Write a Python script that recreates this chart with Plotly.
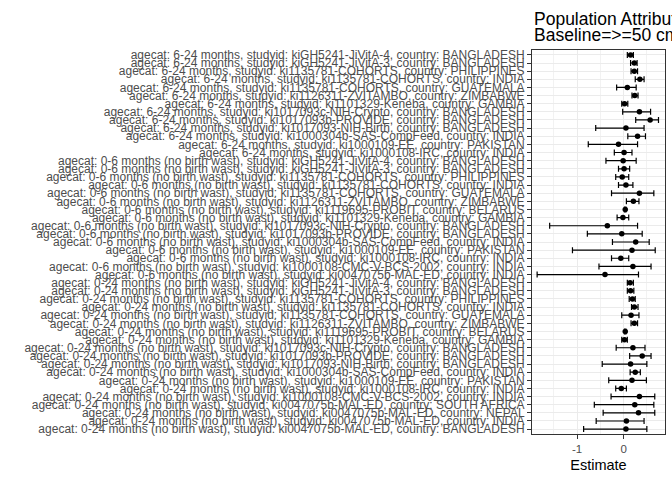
import plotly.graph_objects as go

agecats = (["6-24 months"] * 13
           + ["0-6 months (no birth wast)"] * 15
           + ["0-24 months (no birth wast)"] * 19)

studies = [
    # 6-24 months
    ("kiGH5241-JiVitA-4", "BANGLADESH"),
    ("kiGH5241-JiVitA-3", "BANGLADESH"),
    ("ki1135781-COHORTS", "PHILIPPINES"),
    ("ki1135781-COHORTS", "INDIA"),
    ("ki1135781-COHORTS", "GUATEMALA"),
    ("ki1126311-ZVITAMBO", "ZIMBABWE"),
    ("ki1101329-Keneba", "GAMBIA"),
    ("ki1017093c-NIH-Crypto", "BANGLADESH"),
    ("ki1017093b-PROVIDE", "BANGLADESH"),
    ("ki1017093-NIH-Birth", "BANGLADESH"),
    ("ki1000304b-SAS-CompFeed", "INDIA"),
    ("ki1000109-EE", "PAKISTAN"),
    ("ki1000108-IRC", "INDIA"),
    # 0-6 months (no birth wast)
    ("kiGH5241-JiVitA-4", "BANGLADESH"),
    ("kiGH5241-JiVitA-3", "BANGLADESH"),
    ("ki1135781-COHORTS", "PHILIPPINES"),
    ("ki1135781-COHORTS", "INDIA"),
    ("ki1135781-COHORTS", "GUATEMALA"),
    ("ki1126311-ZVITAMBO", "ZIMBABWE"),
    ("ki1119695-PROBIT", "BELARUS"),
    ("ki1101329-Keneba", "GAMBIA"),
    ("ki1017093c-NIH-Crypto", "BANGLADESH"),
    ("ki1017093b-PROVIDE", "BANGLADESH"),
    ("ki1000304b-SAS-CompFeed", "INDIA"),
    ("ki1000109-EE", "PAKISTAN"),
    ("ki1000108-IRC", "INDIA"),
    ("ki1000108-CMC-V-BCS-2002", "INDIA"),
    ("ki0047075b-MAL-ED", "INDIA"),
    # 0-24 months (no birth wast)
    ("kiGH5241-JiVitA-4", "BANGLADESH"),
    ("kiGH5241-JiVitA-3", "BANGLADESH"),
    ("ki1135781-COHORTS", "PHILIPPINES"),
    ("ki1135781-COHORTS", "INDIA"),
    ("ki1135781-COHORTS", "GUATEMALA"),
    ("ki1126311-ZVITAMBO", "ZIMBABWE"),
    ("ki1119695-PROBIT", "BELARUS"),
    ("ki1101329-Keneba", "GAMBIA"),
    ("ki1017093c-NIH-Crypto", "BANGLADESH"),
    ("ki1017093b-PROVIDE", "BANGLADESH"),
    ("ki1017093-NIH-Birth", "BANGLADESH"),
    ("ki1000304b-SAS-CompFeed", "INDIA"),
    ("ki1000109-EE", "PAKISTAN"),
    ("ki1000108-IRC", "INDIA"),
    ("ki1000108-CMC-V-BCS-2002", "INDIA"),
    ("ki0047075b-MAL-ED", "SOUTH AFRICA"),
    ("ki0047075b-MAL-ED", "NEPAL"),
    ("ki0047075b-MAL-ED", "INDIA"),
    ("ki0047075b-MAL-ED", "BANGLADESH"),
]

labels = [f"agecat: {a}, studyid: {s}, country: {c}" for a, (s, c) in zip(agecats, studies)]

estimate = [0.15, 0.23, 0.23, 0.35, 0.08, 0.24, 0.02, 0.34, 0.57, 0.05, 0.30, -0.11, 0.01,
            -0.01, 0.01, -0.03, 0.05, 0.34, 0.21, 0.035, -0.015, -0.35, -0.04, 0.26, 0.18, -0.06, 0.20, -0.40,
            0.14, 0.15, 0.19, 0.23, 0.16, 0.23, 0.035, 0.02, 0.20, 0.40, 0.15, 0.25, 0.18, -0.05, 0.34,
            0.24, 0.32, 0.06, 0.05]
ci_lower = [0.08, 0.15, 0.16, 0.25, -0.15, 0.18, -0.04, -0.02, 0.26, -0.60, 0.09, -0.76, -0.20,
            -0.38, -0.11, -0.17, -0.11, -0.26, 0.06, 0.02, -0.14, -1.59, -0.78, -0.24, -1.10, -0.26, -0.53, -1.86,
            0.08, 0.08, 0.12, 0.17, -0.04, 0.16, 0.02, -0.04, -0.16, 0.13, -0.46, 0.14, -0.32, -0.17, -0.27,
            -0.63, -0.44, -0.59, -0.86]
ci_upper = [0.21, 0.29, 0.30, 0.44, 0.27, 0.31, 0.09, 0.58, 0.75, 0.44, 0.47, 0.30, 0.18,
            0.27, 0.13, 0.11, 0.20, 0.65, 0.33, 0.05, 0.11, 0.30, 0.40, 0.55, 0.68, 0.11, 0.59, 0.32,
            0.21, 0.22, 0.25, 0.31, 0.33, 0.30, 0.05, 0.08, 0.46, 0.59, 0.50, 0.36, 0.49, 0.06, 0.67,
            0.65, 0.67, 0.44, 0.50]

x_ticks = [-1, 0]
x_tick_labels = ["-1", "0"]

err_plus = [u - e for u, e in zip(ci_upper, estimate)]
err_minus = [e - l for e, l in zip(estimate, ci_lower)]

FONT = "Liberation Sans, Arial, Helvetica, sans-serif"
n = len(labels)
PLOT_H = 480 - 50 - 46

fig = go.Figure()
fig.add_trace(go.Scatter(
    x=estimate, y=list(range(n)), mode="markers",
    marker=dict(color="black", size=5.5),
    error_x=dict(type="data", symmetric=False, array=err_plus, arrayminus=err_minus,
                 color="black", thickness=1.2, width=3),
    showlegend=False,
))

fig.update_layout(
    template="none",
    width=672, height=480,
    margin=dict(l=532, r=7, t=50, b=46, autoexpand=False),
    paper_bgcolor="white", plot_bgcolor="white",
    font=dict(family=FONT, color="#4D4D4D", size=12),
    xaxis=dict(
        range=[-1.97, 0.89], tickvals=x_ticks, ticktext=x_tick_labels,
        ticks="outside", ticklen=4, tickcolor="#333333", tickwidth=1,
        tickfont=dict(size=11.5, color="#4D4D4D", family=FONT),
        showgrid=True, gridcolor="#EBEBEB", gridwidth=1,
        minor=dict(tickvals=[-1.5, -0.5, 0.5], showgrid=True, gridcolor="#F2F2F2", gridwidth=0.6, ticks=""),
        showline=True, mirror=True, linecolor="#333333", linewidth=1,
        zeroline=False, automargin=False,
        title=dict(text="Estimate", font=dict(size=14.5, color="black", family=FONT), standoff=6),
    ),
    yaxis=dict(
        range=[n - 0.4, -0.6],
        tickvals=list(range(n)), ticktext=labels,
        ticks="outside", ticklen=4, tickcolor="#333333", tickwidth=1,
        tickfont=dict(size=12, color="#4D4D4D", family=FONT),
        showgrid=True, gridcolor="#EBEBEB", gridwidth=1,
        showline=True, mirror=True, linecolor="#333333", linewidth=1,
        zeroline=False, automargin=False,
    ),
    annotations=[
        dict(text="Population Attributable Difference", xref="paper", yref="paper",
             x=0, y=1 + (50 - 19) / PLOT_H, xanchor="left", yanchor="middle", showarrow=False,
             font=dict(size=17.5, color="black", family=FONT)),
        dict(text="Baseline=>=50 cm", xref="paper", yref="paper",
             x=0, y=1 + (50 - 34.5) / PLOT_H, xanchor="left", yanchor="middle", showarrow=False,
             font=dict(size=17.5, color="black", family=FONT)),
    ],
)

fig.write_html("out.html")
